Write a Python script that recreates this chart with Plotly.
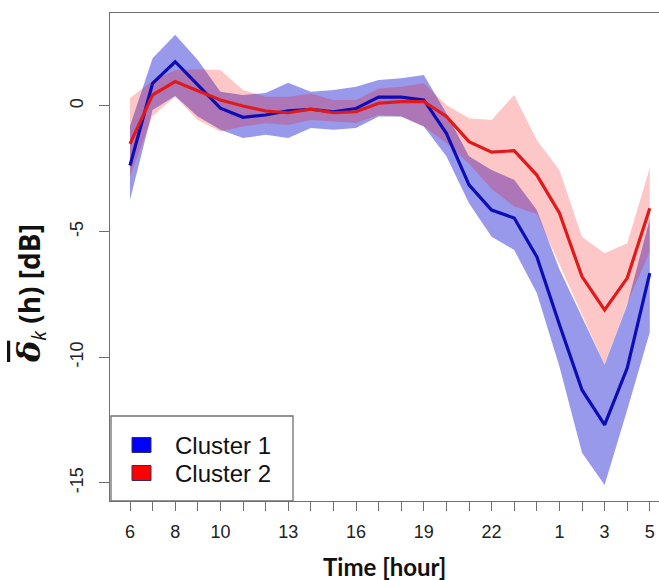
import plotly.graph_objects as go

# ---- data ----
hours = [6, 7, 8, 9, 10, 11, 12, 13, 14, 15, 16, 17, 18, 19, 20, 21, 22, 23, 0, 1, 2, 3, 4, 5]
tick_hours = [6, 8, 10, 13, 16, 19, 22, 1, 3, 5]
y_ticks = [0, -5, -10, -15]

cluster1_mean = [-2.37, 0.90, 1.76, 0.84, -0.09, -0.45, -0.36, -0.19, -0.13, -0.23, -0.10, 0.35,
                 0.35, 0.24, -1.09, -3.14, -4.14, -4.46, -6.0, -8.7, -11.3, -12.69, -10.43, -6.65]
cluster1_upper = [-0.8, 1.9, 2.83, 1.83, 0.57, 0.44, 0.52, 0.92, 0.57, 0.64, 0.77, 1.03,
                  1.1, 1.23, -0.29, -2.0, -2.55, -2.94, -4.14, -6.5, -8.4, -10.3, -7.9, -4.5]
cluster1_lower = [-3.74, -0.16, 0.4, -0.42, -0.95, -1.27, -1.15, -1.27, -0.88, -0.95, -0.88, -0.42,
                  -0.42, -0.82, -2.0, -3.87, -5.2, -5.73, -7.44, -10.37, -13.8, -15.08, -12.1, -9.0]

cluster2_mean = [-1.51, 0.44, 0.97, 0.61, 0.24, 0.0, -0.2, -0.27, -0.13, -0.27, -0.23, 0.11,
                 0.17, 0.17, -0.42, -1.42, -1.84, -1.78, -2.75, -4.26, -6.79, -8.12, -6.85, -4.07]
cluster2_upper = [0.32, 1.0, 1.43, 1.46, 1.43, 0.64, 0.37, 0.37, 0.5, 0.24, 0.24, 0.7,
                  0.77, 0.9, 0.04, -0.49, -0.56, 0.44, -1.35, -2.55, -5.2, -5.86, -5.46, -2.47]
cluster2_lower = [-2.8, -0.4, 0.37, -0.56, -1.02, -0.82, -0.69, -0.76, -0.56, -0.62, -0.68, -0.36,
                  -0.42, -0.82, -1.47, -2.3, -3.3, -4.0, -4.3, -6.3, -8.3, -10.3, -7.85, -5.8]

series_names = ["Cluster 1", "Cluster 2"]

# ---- styles ----
BLUE_LINE = "#0D0DB5"
RED_LINE = "#E01A1A"
BLUE_FILL = "rgba(0,0,205,0.40)"
RED_FILL = "rgba(245,0,0,0.22)"
AX = "#707070"

W, H = 659, 580
L, T, R, B = 110, 13, 0, 79
PW, PH = W - L - R, H - T - B


def px(xp):
    return (xp - L) / PW


def py(yp):
    return (H - B - yp) / PH


idx = list(range(len(hours)))
fig = go.Figure()


def band(upper, lower, color):
    return go.Scatter(x=idx + idx[::-1], y=upper + lower[::-1], fill="toself",
                      fillcolor=color, line=dict(width=0), mode="lines",
                      hoverinfo="skip", showlegend=False)


fig.add_trace(band(cluster1_upper, cluster1_lower, BLUE_FILL))
fig.add_trace(band(cluster2_upper, cluster2_lower, RED_FILL))
fig.add_trace(go.Scatter(x=idx, y=cluster1_mean, mode="lines", name=series_names[0],
                         line=dict(color=BLUE_LINE, width=3.2), showlegend=False))
fig.add_trace(go.Scatter(x=idx, y=cluster2_mean, mode="lines", name=series_names[1],
                         line=dict(color=RED_LINE, width=3.2), showlegend=False))

tickvals = [i for i, h in zip(idx, hours) if h in tick_hours]
ticktext = [str(h) for h in hours if h in tick_hours]

px_per_idx = 22.6
xr0 = -20 / px_per_idx
xr1 = xr0 + PW / px_per_idx

fig.update_layout(
    width=W, height=H,
    margin=dict(l=L, r=R, t=T, b=B),
    paper_bgcolor="white", plot_bgcolor="white",
    font=dict(family="Liberation Sans, Arial", size=18, color="#222222"),
    showlegend=False,
    xaxis=dict(range=[xr0, xr1], tickmode="array", tickvals=tickvals, ticktext=ticktext,
               showgrid=False, zeroline=False, showline=True, mirror=True,
               linecolor=AX, linewidth=1.3, ticks="outside", ticklen=9,
               tickcolor=AX, tickwidth=1.2, ticklabelstandoff=5,
               tickfont=dict(size=18, color="#222222"),
               minor=dict(tickmode="linear", tick0=0, dtick=1, ticks="outside",
                          ticklen=9, tickcolor=AX, tickwidth=1.2, showgrid=False)),
    yaxis=dict(range=[-15.72, 3.70], tickmode="array", tickvals=y_ticks,
               ticktext=[str(v) for v in y_ticks], tickangle=-90,
               showgrid=False, zeroline=False, showline=True, mirror=False,
               linecolor=AX, linewidth=1.3, ticks="outside", ticklen=10,
               tickcolor=AX, tickwidth=1.2, ticklabelstandoff=9,
               tickfont=dict(size=18, color="#222222")),
)

# manual legend box (R-style)
fig.add_shape(type="rect", xref="paper", yref="paper",
              x0=px(111), x1=px(293), y0=py(501), y1=py(416),
              fillcolor="white", line=dict(color=AX, width=1.3), layer="above")
for name, col, yc in zip(series_names, ["#0000FF", "#FF0000"], [445, 473]):
    fig.add_shape(type="rect", xref="paper", yref="paper",
                  x0=px(132), x1=px(151), y0=py(yc + 7.5), y1=py(yc - 7.5),
                  fillcolor=col, line=dict(color="#303060", width=1), layer="above")
    fig.add_annotation(text=name, xref="paper", yref="paper", x=px(173), y=py(yc),
                       xanchor="left", yanchor="middle", showarrow=False,
                       font=dict(family="Liberation Sans, Arial", size=24, color="#111111"))

fig.add_annotation(text="<b>Time [hour]</b>", xref="paper", yref="paper",
                   x=0.5, y=py(566), xanchor="center", yanchor="middle",
                   showarrow=False, font=dict(family="Lato", size=24, color="#111111"))
fig.add_annotation(
    text="<span style='font-family:DejaVu Serif;font-size:32px;text-decoration:overline'>"
         "<b><i>δ</i></b></span>"
         "<sub><i>k</i></sub><b> (h) [dB]</b>",
    xref="paper", yref="paper",
    x=px(31), y=py(294), xanchor="center", yanchor="middle",
    textangle=-90, showarrow=False,
    font=dict(family="Open Sans", size=28, color="#111111"))

fig.write_html("out.html")
